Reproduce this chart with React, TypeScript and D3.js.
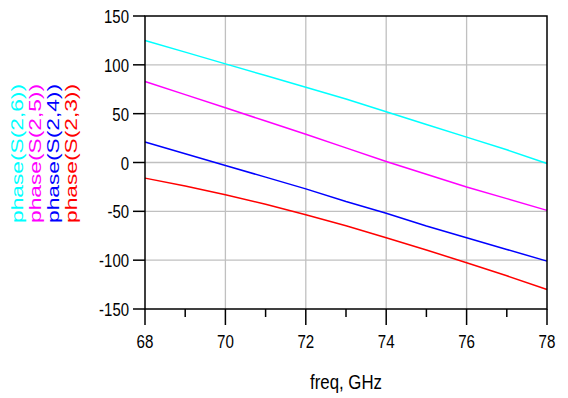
import React, { useEffect, useRef } from 'react';
import * as d3 from 'd3';

const freq = [68, 69, 70, 71, 72, 73, 74, 75, 76, 77, 78];
const s26 = [125, 113, 101, 89, 77, 65, 52, 39, 26, 13, -1];
const s25 = [83, 69.5, 56, 42.5, 29, 15, 1, -12, -25, -37, -49];
const s24 = [21, 9, -3, -15, -27, -40, -52, -65, -77, -89, -101];
const s23 = [-16, -24, -33, -42.8, -53.4, -64.8, -77, -89.6, -102.6, -116, -130];

const seriesNames = ['phase(S(2,6))', 'phase(S(2,5))', 'phase(S(2,4))', 'phase(S(2,3))'];
const seriesColors = ['#00ffff', '#ff00ff', '#0000ff', '#ff0000'];
const seriesValues = [s26, s25, s24, s23];

const xTicks = [68, 70, 72, 74, 76, 78];
const xMinor = [69, 71, 73, 75, 77];
const yTicks = [150, 100, 50, 0, -50, -100, -150];

const W = 568, H = 398;
const FONT = '"Liberation Sans", Arial, sans-serif';

const App = () => {
    const ref = useRef<SVGSVGElement>(null);

    useEffect(() => {
        if (!ref.current) return;
        const svg = d3.select(ref.current);
        svg.selectAll('*').remove();

        const left = 145, right = 547, top = 16, bottom = 309;
        const x = d3.scaleLinear().domain([68, 78]).range([left, right]);
        const y = d3.scaleLinear().domain([-150, 150]).range([bottom, top]);

        // condense text horizontally like the original
        const squeeze = (sel: any, f: number) => sel.each(function (this: SVGTextElement) {
            const len = this.getComputedTextLength();
            this.setAttribute('textLength', String(len * f));
            this.setAttribute('lengthAdjust', 'spacingAndGlyphs');
        });

        // grid
        svg.append('g').selectAll('line').data(xTicks.slice(1, -1)).enter().append('line')
            .attr('x1', d => x(d)).attr('x2', d => x(d)).attr('y1', top).attr('y2', bottom)
            .attr('stroke', '#c0c0c0').attr('stroke-width', 1.3);
        svg.append('g').selectAll('line').data(yTicks.slice(1, -1)).enter().append('line')
            .attr('x1', left).attr('x2', right).attr('y1', d => y(d)).attr('y2', d => y(d))
            .attr('stroke', '#c0c0c0').attr('stroke-width', 1.3);

        // series
        const line = d3.line<number>().x((_, i) => x(freq[i])).y(d => y(d));
        seriesValues.forEach((vals, k) => {
            svg.append('path').datum(vals)
                .attr('fill', 'none').attr('stroke', seriesColors[k]).attr('stroke-width', 1.5)
                .attr('d', line);
        });

        // frame and ticks
        const ax = svg.append('g').attr('stroke', '#000').attr('stroke-width', 1.5);
        ax.append('rect').attr('x', left).attr('y', top).attr('width', right - left).attr('height', bottom - top)
            .attr('fill', 'none');
        ax.selectAll('.yt').data(yTicks).enter().append('line')
            .attr('x1', left - 12).attr('x2', left).attr('y1', d => y(d)).attr('y2', d => y(d));
        ax.selectAll('.xt').data(xTicks).enter().append('line')
            .attr('x1', d => x(d)).attr('x2', d => x(d)).attr('y1', bottom).attr('y2', bottom + 16);
        ax.selectAll('.xm').data(xMinor).enter().append('line')
            .attr('x1', d => x(d)).attr('x2', d => x(d)).attr('y1', bottom).attr('y2', bottom + 8);

        // tick labels
        svg.append('g').selectAll('text').data(yTicks).enter().append('text')
            .attr('x', left - 16).attr('y', d => y(d) + 7)
            .attr('text-anchor', 'end').attr('font-family', FONT).attr('font-size', 18)
            .text(d => String(d)).call(squeeze, 0.83);
        svg.append('g').selectAll('text').data(xTicks).enter().append('text')
            .attr('x', d => x(d)).attr('y', 348)
            .attr('text-anchor', 'middle').attr('font-family', FONT).attr('font-size', 18)
            .text(d => String(d)).call(squeeze, 0.84);

        // axis title
        svg.append('text').attr('x', x(73)).attr('y', 389)
            .attr('text-anchor', 'middle').attr('font-family', FONT).attr('font-size', 21)
            .text('freq, GHz').call(squeeze, 0.8);

        // legend, rotated
        const legX = [23, 41, 59, 77];
        seriesNames.forEach((name, k) => {
            svg.append('text')
                .attr('transform', `translate(${legX[k]},223) rotate(-90)`)
                .attr('font-family', FONT).attr('font-size', 17)
                .attr('fill', seriesColors[k])
                .attr('textLength', 139).attr('lengthAdjust', 'spacingAndGlyphs')
                .text(name);
        });
    }, []);

    return <svg ref={ref} width={W} height={H} style={{ position: 'absolute', left: 0, top: 0, background: '#fff' }} />;
};

export default App;
